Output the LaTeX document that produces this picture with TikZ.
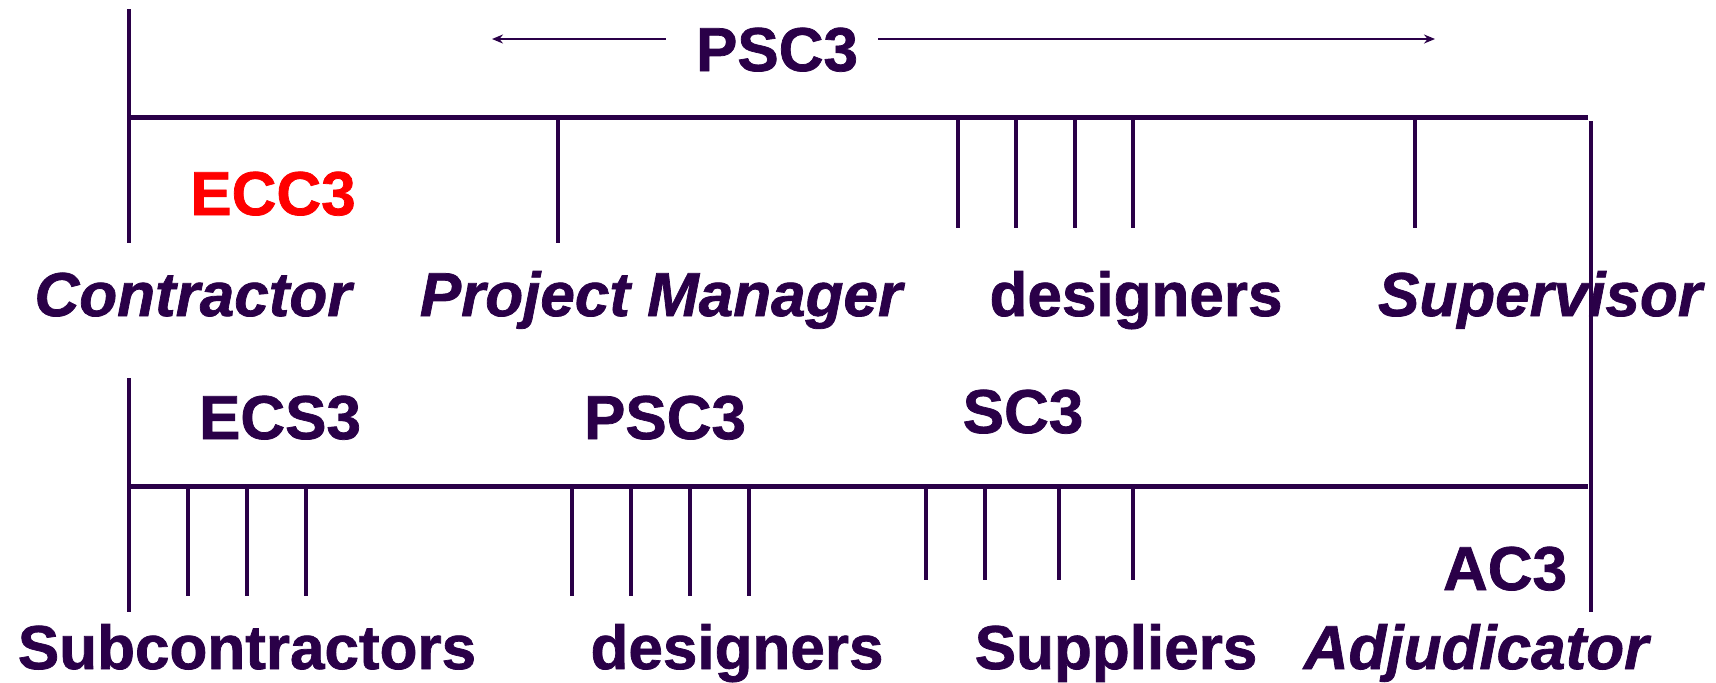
\documentclass[tikz,border=0pt]{standalone}
\usepackage{fontspec}
\setmainfont{Liberation Sans}[BoldFeatures={FakeBold=1.2},BoldItalicFeatures={FakeBold=1.2}]
\usetikzlibrary{arrows.meta}
\definecolor{ink}{RGB}{42,0,72}
\begin{document}
\begin{tikzpicture}[x=0.5pt,y=-0.5pt,
  lbl/.style={inner sep=0pt,anchor=base,text=ink,font=\fontsize{31}{31}\selectfont\bfseries},
  role/.style={lbl,font=\fontsize{31}{31}\selectfont\bfseries\itshape},
  bar/.style={ink,line width=2.5pt},
  post/.style={ink,line width=2pt},
  tick/.style={ink,line width=1.75pt},
  span/.style={ink,line width=1pt,-{Stealth[length=5.5pt,width=4.5pt]}}]
\useasboundingbox (0,0) rectangle (1716,682);
% upper level: main contract
\coordinate (topL) at (129,117);
\coordinate (topR) at (1588,117);
\draw [bar] (topL) -- (topR);
\draw [post] (129,9) -- (129,243);
\draw [post] (1591,121) -- (1591,612);
\draw [tick] (558,117) -- (558,243);
\draw [tick] (958,117) -- (958,228);
\draw [tick] (1016,117) -- (1016,228);
\draw [tick] (1075,117) -- (1075,228);
\draw [tick] (1133,117) -- (1133,228);
\draw [tick] (1415,117) -- (1415,228);
\node [lbl] (psctop) at (777,71) {PSC3};
\coordinate (spanL) at (492,39);
\coordinate (spanR) at (1435,39);
\draw [span] (psctop.west |- spanL) ++(-15pt,0) -- (spanL);
\draw [span] (psctop.east |- spanR) ++(10pt,0) -- (spanR);
\node [lbl,text=red] (ecc) at (273,215) {ECC3};
\node [role] (contractor) at (193,316) {Contractor};
\node [role] (pm) at (661,316) {Project Manager};
\node [lbl] (destop) at (1136,316) {designers};
\node [role] (supervisor) at (1540,316) {Supervisor};
% lower level: subcontracts
\coordinate (botL) at (129,486);
\coordinate (botR) at (1588,486);
\draw [bar] (botL) -- (botR);
\draw [post] (129,378) -- (129,612);
\draw [tick] (188,486) -- (188,596);
\draw [tick] (247,486) -- (247,596);
\draw [tick] (306,486) -- (306,596);
\draw [tick] (572,486) -- (572,596);
\draw [tick] (631,486) -- (631,596);
\draw [tick] (690,486) -- (690,596);
\draw [tick] (749,486) -- (749,596);
\draw [tick] (926,486) -- (926,580);
\draw [tick] (985,486) -- (985,580);
\draw [tick] (1059,486) -- (1059,580);
\draw [tick] (1133,486) -- (1133,580);
\node [lbl] (ecs) at (280,439) {ECS3};
\node [lbl] (pscbot) at (665,439) {PSC3};
\node [lbl] (sc) at (1023,433) {SC3};
\node [lbl] (ac) at (1505,590) {AC3};
\node [lbl] (subs) at (247,669) {Subcontractors};
\node [lbl] (desbot) at (737,669) {designers};
\node [lbl] (suppliers) at (1116,669) {Suppliers};
\node [role] (adjudicator) at (1476,669) {Adjudicator};
\end{tikzpicture}
\end{document}
